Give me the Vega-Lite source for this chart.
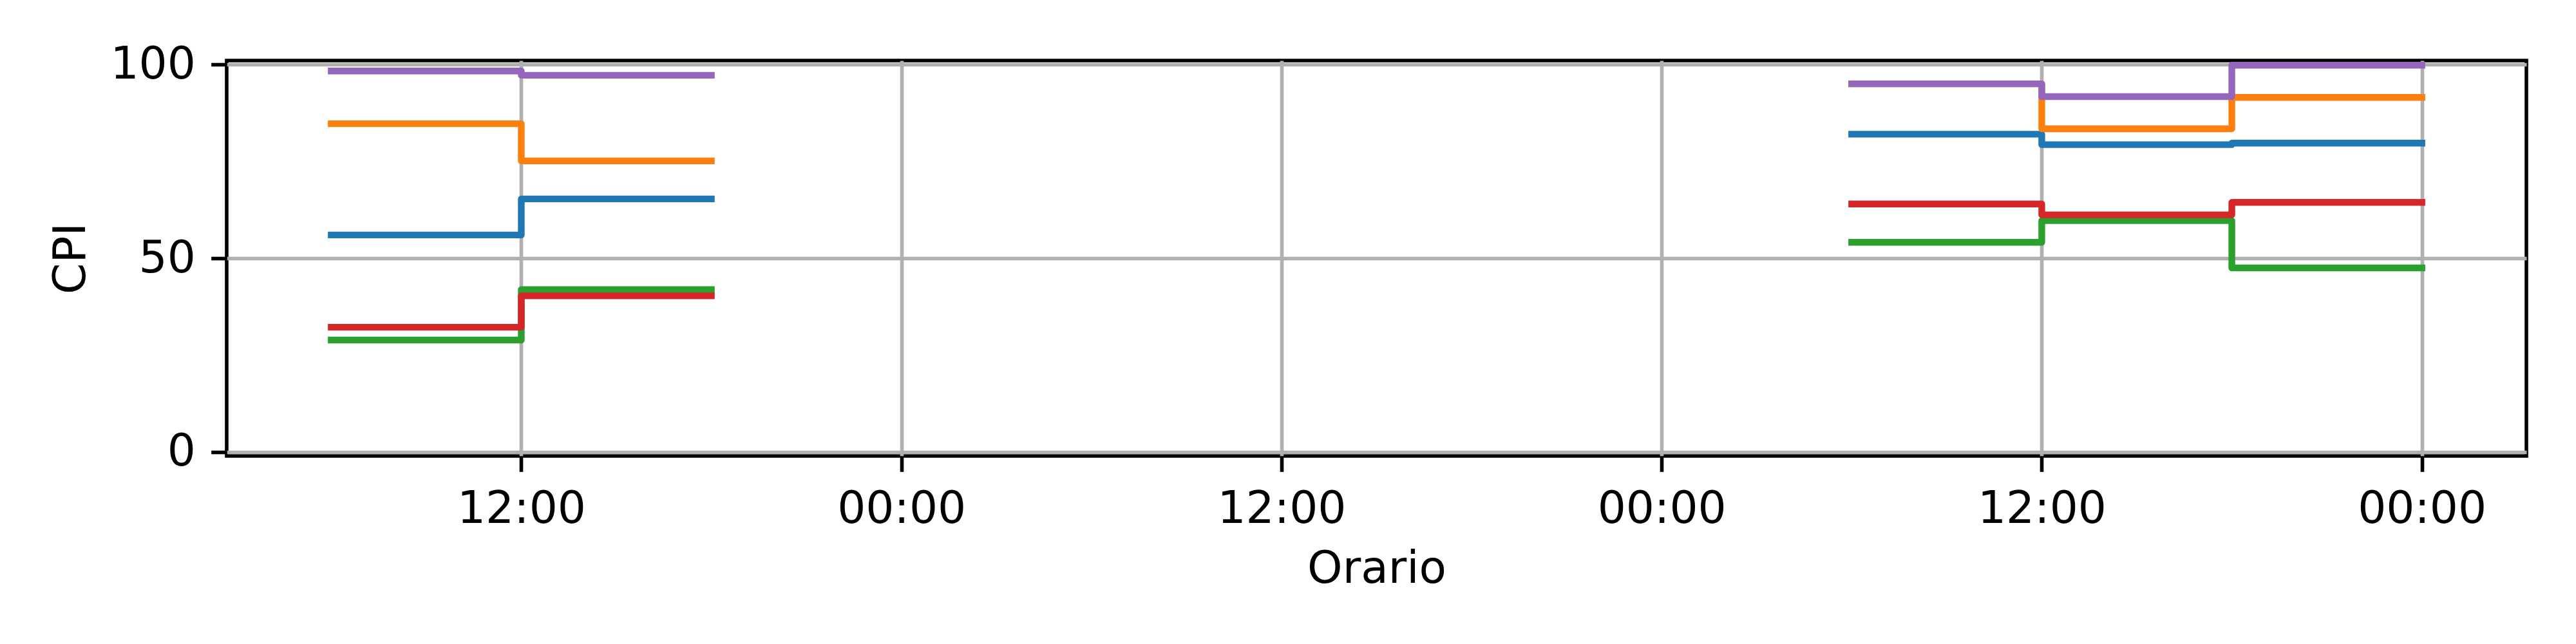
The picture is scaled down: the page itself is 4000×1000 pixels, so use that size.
{
  "$schema": "https://vega.github.io/schema/vega-lite/v6.json",
  "width": 3571,
  "height": 614,
  "autosize": {"type": "none"},
  "padding": {"left": 352, "top": 94, "right": 77, "bottom": 292},
  "background": "white",
  "config": {
    "view": {"stroke": "black", "strokeWidth": 5.6},
    "font": "DejaVu Sans",
    "axis": {
      "domain": false,
      "grid": true,
      "gridColor": "#b0b0b0",
      "gridWidth": 5.6,
      "gridOpacity": 1,
      "ticks": true,
      "tickColor": "black",
      "tickWidth": 5.6,
      "tickSize": 24.3,
      "labelPadding": 24.3,
      "labelLimit": 0,
      "labelFont": "DejaVu Sans",
      "labelFontSize": 69.4,
      "labelColor": "black",
      "titleFont": "DejaVu Sans",
      "titleFontSize": 69.4,
      "titleFontWeight": "normal",
      "titleColor": "black"
    }
  },
  "data": {
    "values": [
      {"serie": "Serie 1", "blocco": "A", "orario": "2024-01-01T06:00:00", "cpi": 56.0},
      {"serie": "Serie 1", "blocco": "A", "orario": "2024-01-01T12:00:00", "cpi": 65.3},
      {"serie": "Serie 1", "blocco": "A", "orario": "2024-01-01T18:00:00", "cpi": 65.3},
      {"serie": "Serie 1", "blocco": "B", "orario": "2024-01-03T06:00:00", "cpi": 82.0},
      {"serie": "Serie 1", "blocco": "B", "orario": "2024-01-03T12:00:00", "cpi": 79.3},
      {"serie": "Serie 1", "blocco": "B", "orario": "2024-01-03T18:00:00", "cpi": 79.7},
      {"serie": "Serie 1", "blocco": "B", "orario": "2024-01-04T00:00:00", "cpi": 79.7},

      {"serie": "Serie 2", "blocco": "A", "orario": "2024-01-01T06:00:00", "cpi": 84.7},
      {"serie": "Serie 2", "blocco": "A", "orario": "2024-01-01T12:00:00", "cpi": 75.1},
      {"serie": "Serie 2", "blocco": "A", "orario": "2024-01-01T18:00:00", "cpi": 75.1},
      {"serie": "Serie 2", "blocco": "B", "orario": "2024-01-03T06:00:00", "cpi": 95.0},
      {"serie": "Serie 2", "blocco": "B", "orario": "2024-01-03T12:00:00", "cpi": 83.4},
      {"serie": "Serie 2", "blocco": "B", "orario": "2024-01-03T18:00:00", "cpi": 91.5},
      {"serie": "Serie 2", "blocco": "B", "orario": "2024-01-04T00:00:00", "cpi": 91.5},

      {"serie": "Serie 3", "blocco": "A", "orario": "2024-01-01T06:00:00", "cpi": 28.9},
      {"serie": "Serie 3", "blocco": "A", "orario": "2024-01-01T12:00:00", "cpi": 41.9},
      {"serie": "Serie 3", "blocco": "A", "orario": "2024-01-01T18:00:00", "cpi": 41.9},
      {"serie": "Serie 3", "blocco": "B", "orario": "2024-01-03T06:00:00", "cpi": 54.1},
      {"serie": "Serie 3", "blocco": "B", "orario": "2024-01-03T12:00:00", "cpi": 59.7},
      {"serie": "Serie 3", "blocco": "B", "orario": "2024-01-03T18:00:00", "cpi": 47.5},
      {"serie": "Serie 3", "blocco": "B", "orario": "2024-01-04T00:00:00", "cpi": 47.5},

      {"serie": "Serie 4", "blocco": "A", "orario": "2024-01-01T06:00:00", "cpi": 32.2},
      {"serie": "Serie 4", "blocco": "A", "orario": "2024-01-01T12:00:00", "cpi": 40.3},
      {"serie": "Serie 4", "blocco": "A", "orario": "2024-01-01T18:00:00", "cpi": 40.3},
      {"serie": "Serie 4", "blocco": "B", "orario": "2024-01-03T06:00:00", "cpi": 64.0},
      {"serie": "Serie 4", "blocco": "B", "orario": "2024-01-03T12:00:00", "cpi": 61.2},
      {"serie": "Serie 4", "blocco": "B", "orario": "2024-01-03T18:00:00", "cpi": 64.4},
      {"serie": "Serie 4", "blocco": "B", "orario": "2024-01-04T00:00:00", "cpi": 64.4},

      {"serie": "Serie 5", "blocco": "A", "orario": "2024-01-01T06:00:00", "cpi": 98.3},
      {"serie": "Serie 5", "blocco": "A", "orario": "2024-01-01T12:00:00", "cpi": 97.2},
      {"serie": "Serie 5", "blocco": "A", "orario": "2024-01-01T18:00:00", "cpi": 97.2},
      {"serie": "Serie 5", "blocco": "B", "orario": "2024-01-03T06:00:00", "cpi": 95.0},
      {"serie": "Serie 5", "blocco": "B", "orario": "2024-01-03T12:00:00", "cpi": 91.7},
      {"serie": "Serie 5", "blocco": "B", "orario": "2024-01-03T18:00:00", "cpi": 99.8},
      {"serie": "Serie 5", "blocco": "B", "orario": "2024-01-04T00:00:00", "cpi": 99.8}
    ]
  },
  "mark": {
    "type": "line",
    "interpolate": "step-after",
    "strokeWidth": 10.4,
    "strokeCap": "square",
    "strokeJoin": "round",
    "clip": true
  },
  "encoding": {
    "x": {
      "field": "orario",
      "type": "temporal",
      "scale": {
        "domain": [
          {"year": 2024, "month": 1, "date": 1, "hours": 2, "minutes": 42},
          {"year": 2024, "month": 1, "date": 4, "hours": 3, "minutes": 18}
        ]
      },
      "axis": {
        "title": "Orario",
        "format": "%H:%M",
        "titlePadding": 24,
        "values": [
          {"year": 2024, "month": 1, "date": 1, "hours": 12},
          {"year": 2024, "month": 1, "date": 2, "hours": 0},
          {"year": 2024, "month": 1, "date": 2, "hours": 12},
          {"year": 2024, "month": 1, "date": 3, "hours": 0},
          {"year": 2024, "month": 1, "date": 3, "hours": 12},
          {"year": 2024, "month": 1, "date": 4, "hours": 0}
        ]
      }
    },
    "y": {
      "field": "cpi",
      "type": "quantitative",
      "scale": {"domain": [-1, 101], "nice": false, "zero": false},
      "axis": {"title": "CPI", "values": [0, 50, 100], "titlePadding": 24}
    },
    "color": {
      "field": "serie",
      "type": "nominal",
      "scale": {
        "domain": ["Serie 1", "Serie 2", "Serie 3", "Serie 4", "Serie 5"],
        "range": ["#1f77b4", "#ff7f0e", "#2ca02c", "#d62728", "#9467bd"]
      },
      "legend": null
    },
    "detail": {"field": "blocco", "type": "nominal"}
  }
}
